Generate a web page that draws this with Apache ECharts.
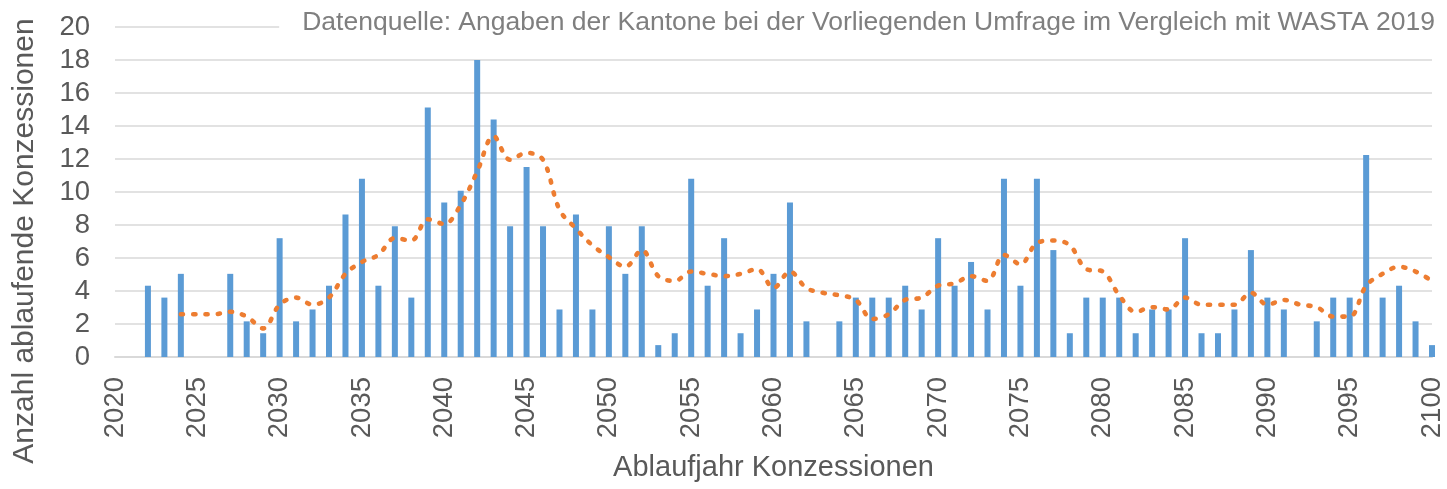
<!DOCTYPE html>
<html>
<head>
<meta charset="utf-8">
<script src="https://cdn.jsdelivr.net/npm/echarts@6/dist/echarts.min.js"></script>
<style>
html,body{margin:0;padding:0;background:#fff;}
#chart{width:1447px;height:489px;}
</style>
</head>
<body>
<div id="chart"></div>
<script>
// Ablaufjahr (x) and Anzahl ablaufende Konzessionen (bars)
var years = [2020,2021,2022,2023,2024,2025,2026,2027,2028,2029,
  2030,2031,2032,2033,2034,2035,2036,2037,2038,2039,
  2040,2041,2042,2043,2044,2045,2046,2047,2048,2049,
  2050,2051,2052,2053,2054,2055,2056,2057,2058,2059,
  2060,2061,2062,2063,2064,2065,2066,2067,2068,2069,
  2070,2071,2072,2073,2074,2075,2076,2077,2078,2079,
  2080,2081,2082,2083,2084,2085,2086,2087,2088,2089,
  2090,2091,2092,2093,2094,2095,2096,2097,2098,2099,2100];
var counts = [0,0,4.32,3.6,5.04,0,0,5.04,2.16,1.44,
  7.2,2.16,2.88,4.32,8.64,10.8,4.32,7.92,3.6,15.12,
  9.36,10.08,18.0,14.4,7.92,11.52,7.92,2.88,8.64,2.88,
  7.92,5.04,7.92,0.72,1.44,10.8,4.32,7.2,1.44,2.88,
  5.04,9.36,2.16,0,2.16,3.6,3.6,3.6,4.32,2.88,
  7.2,4.32,5.76,2.88,10.8,4.32,10.8,6.48,1.44,3.6,
  3.6,3.6,1.44,2.88,2.88,7.2,1.44,1.44,2.88,6.48,
  3.6,2.88,0,2.16,3.6,3.6,12.24,3.6,4.32,2.16,0.72];
// Trendline (gleitender Durchschnitt)
var trendYears = [2024,2025,2026,2027,2028,2029,
  2030,2031,2032,2033,2034,2035,2036,2037,2038,2039,
  2040,2041,2042,2043,2044,2045,2046,2047,2048,2049,
  2050,2051,2052,2053,2054,2055,2056,2057,2058,2059,
  2060,2061,2062,2063,2064,2065,2066,2067,2068,2069,
  2070,2071,2072,2073,2074,2075,2076,2077,2078,2079,
  2080,2081,2082,2083,2084,2085,2086,2087,2088,2089,
  2090,2091,2092,2093,2094,2095,2096,2097,2098,2099,2100];
var trendValues = [2.59,2.59,2.59,2.74,2.45,1.73,
  3.17,3.6,3.17,3.6,5.04,5.76,6.19,7.2,7.06,8.35,
  8.06,9.22,11.23,13.39,11.95,12.38,11.95,8.93,7.78,6.77,
  6.05,5.47,6.48,4.9,4.61,5.18,5.04,4.9,5.04,5.33,
  4.18,5.18,4.18,3.89,3.74,3.46,2.3,2.59,3.46,3.6,
  4.32,4.46,4.9,4.61,6.19,5.62,6.91,7.06,6.77,5.33,
  5.18,3.74,2.74,3.02,2.88,3.6,3.17,3.17,3.17,3.89,
  3.17,3.46,3.17,3.02,2.45,2.45,4.32,5.04,5.47,5.18,4.61];

var titleText = 'Datenquelle: Angaben der Kantone bei der Vorliegenden Umfrage im Vergleich mit WASTA 2019';
var xName = 'Ablaufjahr Konzessionen';
var yName = 'Anzahl ablaufende Konzessionen';

var barData = years.map(function(y, i){ return [y, counts[i] === 0 ? null : counts[i]]; });
var lineData = trendYears.map(function(y, i){ return [y, trendValues[i]]; });

var FONT = '"Liberation Sans", Arial, sans-serif';
var chart = echarts.init(document.getElementById('chart'), null, {renderer:'canvas'});
chart.setOption({
  animation: false,
  backgroundColor: '#ffffff',
  title: {
    text: titleText,
    right: 12,
    top: 7,
    padding: [2, 0, 2, 23],
    backgroundColor: '#ffffff',
    textStyle: {fontFamily: FONT, fontSize: 26.5, fontWeight: 'normal', color: '#7f7f7f'}
  },
  grid: {left: 115, right: 15, top: 27, bottom: 132, containLabel: false},
  xAxis: {
    type: 'value', min: 2020, max: 2100, interval: 5,
    name: xName, nameLocation: 'middle', nameGap: 96,
    nameTextStyle: {fontFamily: FONT, fontSize: 29, color: '#595959'},
    axisLine: {show: true, lineStyle: {color: '#d9d9d9', width: 2}},
    axisTick: {show: false},
    splitLine: {show: false},
    axisLabel: {rotate: 90, margin: 20, fontFamily: FONT, fontSize: 27.5, color: '#595959',
      formatter: function(v){ return String(v); }}
  },
  yAxis: {
    type: 'value', min: 0, max: 20, interval: 2,
    axisLine: {show: false}, axisTick: {show: false},
    splitLine: {show: true, lineStyle: {color: '#d9d9d9', width: 1.5}},
    axisLabel: {margin: 25, fontFamily: FONT, fontSize: 27.5, color: '#595959'}
  },
  graphic: [{
    type: 'text',
    rotation: Math.PI / 2,
    style: {text: yName, fontFamily: FONT, fontSize: 30, fill: '#595959',
      align: 'center', verticalAlign: 'middle'},
    x: 25, y: 241
  }],
  series: [{
    type: 'bar', data: barData, barWidth: 6,
    itemStyle: {color: '#5b9bd5'}, z: 2
  }, {
    type: 'line', data: lineData, smooth: 0.35, symbol: 'none',
    lineStyle: {color: '#ed7d31', width: 4.6, type: [2.2, 10.1], cap: 'round'}, z: 3
  }]
});
</script>
</body>
</html>
